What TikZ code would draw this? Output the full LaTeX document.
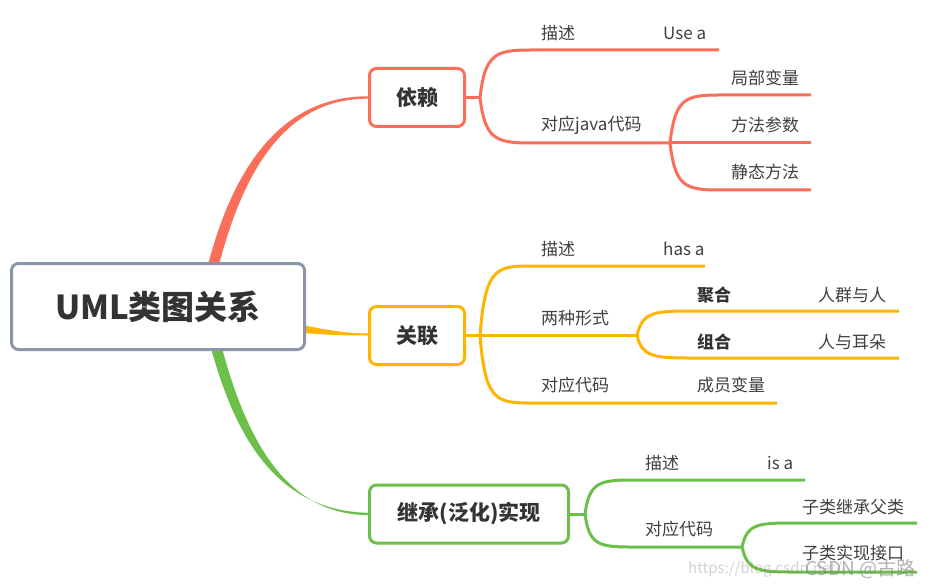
\documentclass[tikz,border=0pt]{standalone}
\usepackage{fontspec}
\setmainfont{Noto Sans CJK SC}
\definecolor{cred}{RGB}{250,110,90}
\definecolor{corg}{RGB}{255,180,0}
\definecolor{cgrn}{RGB}{108,192,74}
\definecolor{cgray}{RGB}{138,149,168}
\definecolor{ctxt}{RGB}{51,51,51}
\definecolor{clbl}{RGB}{64,64,64}
\begin{document}
\begin{tikzpicture}[x=1pt,y=-1pt,
  topic/.style={draw, line width=3pt, rounded corners=7pt, fill=white, text=ctxt,
    font=\bfseries\fontsize{21}{25}\selectfont, inner sep=0pt, minimum height=58pt},
  lbl/.style={anchor=west, inner sep=0pt, text=clbl, font=\fontsize{17}{20}\selectfont},
  blbl/.style={lbl, text=ctxt, font=\bfseries\fontsize{17}{20}\selectfont},
  br/.style={line width=3pt},
  stub/.style={line width=3pt, line cap=round}
]
\useasboundingbox[fill=white] (0,0) rectangle (931,588);

% ---------- tapered main connectors ----------
\fill[cred] (208,265) .. controls (237,153) and (291,96) .. (368,96.3)
  -- (368,98.7) .. controls (293,98.5) and (247,157) .. (219,265) -- cycle;
\fill[corg] (304,325.5) .. controls (330,330) and (340,333) .. (368,333.5)
  -- (368,335.5) .. controls (340,335.5) and (330,335) .. (304,333) -- cycle;
\fill[cgrn] (211,348) .. controls (240,455) and (288,511) .. (368,512.8)
  -- (368,515.2) .. controls (292,514) and (250,452) .. (222,348) -- cycle;

% ---------- topic nodes ----------
\node[topic, draw=cgray, minimum width=293pt, minimum height=86pt,
  font=\bfseries\fontsize{33}{38}\selectfont] (root) at (158,306.5) {UML类图关系};
\node[topic, draw=cred, minimum width=95pt] (dep) at (417,97.5) {依赖};
\node[topic, draw=corg, minimum width=95pt] (assoc) at (417,335.5) {关联};
\node[topic, draw=cgrn, minimum width=199pt] (inh) at (469,514) {继承(泛化)实现};

% ---------- 依赖 branch ----------
\coordinate (r0) at (480,97.5);
\coordinate (r1a) at (530,50);   \coordinate (r1b) at (719,50);
\coordinate (r2a) at (530,143);  \coordinate (r2b) at (670,143);
\coordinate (r3a) at (718,95);   \coordinate (r3b) at (811,95);
\coordinate (r4b) at (811,143);
\coordinate (r5a) at (718,190);  \coordinate (r5b) at (811,190);
\draw[stub, cred] (dep.east) -- (r0);
\draw[br, cred] (r0) .. controls +(5,-43) and +(-35,0) .. (r1a) -- (r1b);
\draw[br, cred] (r0) .. controls +(5,41) and +(-35,0) .. (r2a) -- (r2b);
\draw[br, cred] (r2b) .. controls +(5,-43) and +(-34,0) .. (r3a) -- (r3b);
\draw[br, cred] (r2b) -- (r4b);
\draw[br, cred] (r2b) .. controls +(5,42) and +(-34,0) .. (r5a) -- (r5b);
\draw[stub, cred] (r2b) circle (0.1pt);
\node[lbl] (t1) at (541,33) {描述};
\node[lbl] (t2) at (663,33) {Use a};
\node[lbl] (t3) at (541,125) {对应java代码};
\node[lbl] (t4) at (731,78) {局部变量};
\node[lbl] (t5) at (731,125) {方法参数};
\node[lbl] (t6) at (731,172) {静态方法};

% ---------- 关联 branch ----------
\coordinate (o0) at (480,335.5);
\coordinate (o1a) at (527,266);  \coordinate (o1b) at (705,266);
\coordinate (o2b) at (637,335.5);
\coordinate (o3a) at (527,403);  \coordinate (o3b) at (777,403);
\coordinate (o4a) at (688,311);  \coordinate (o4b) at (899,311);
\coordinate (o5a) at (688,358);  \coordinate (o5b) at (899,358);
\draw[stub, corg] (assoc.east) -- (o0);
\draw[br, corg] (o0) .. controls +(5,-63) and +(-33,0) .. (o1a) -- (o1b);
\draw[br, corg] (o0) -- (o2b);
\draw[br, corg] (o0) .. controls +(5,61) and +(-33,0) .. (o3a) -- (o3b);
\draw[br, corg] (o2b) .. controls +(5,-22) and +(-36,0) .. (o4a) -- (o4b);
\draw[br, corg] (o2b) .. controls +(5,20) and +(-36,0) .. (o5a) -- (o5b);
\draw[stub, corg] (o2b) circle (0.1pt);
\node[lbl] (m1) at (541,249) {描述};
\node[lbl] (m2) at (663,249) {has a};
\node[lbl] (m3) at (541,318) {两种形式};
\node[blbl] (m4) at (697,295) {聚合};
\node[lbl] (m5) at (818,295) {人群与人};
\node[blbl] (m6) at (697,342) {组合};
\node[lbl] (m7) at (818,342) {人与耳朵};
\node[lbl] (m8) at (541,385) {对应代码};
\node[lbl] (m9) at (697,385) {成员变量};

% ---------- 继承 branch ----------
\coordinate (g0) at (585,514);
\coordinate (g1a) at (630,480);  \coordinate (g1b) at (805,480);
\coordinate (g2a) at (630,547);  \coordinate (g2b) at (742,547);
\coordinate (g3a) at (790,523);  \coordinate (g3b) at (917,523);
\coordinate (g4a) at (790,572);  \coordinate (g4b) at (917,572);
\draw[stub, cgrn] (inh.east) -- (g0);
\draw[br, cgrn] (g0) .. controls +(4,-30) and +(-32,0) .. (g1a) -- (g1b);
\draw[br, cgrn] (g0) .. controls +(4,30) and +(-32,0) .. (g2a) -- (g2b);
\draw[br, cgrn] (g2b) .. controls +(5,-22) and +(-34,0) .. (g3a) -- (g3b);
\draw[br, cgrn] (g2b) .. controls +(5,22) and +(-34,0) .. (g4a) -- (g4b);
\node[lbl] (b1) at (645,463) {描述};
\node[lbl] (b2) at (767,463) {is a};
\node[lbl] (b3) at (645,529) {对应代码};
\node[lbl] (b4) at (802,507) {子类继承父类};
\node[lbl] (b5) at (802,553) {子类实现接口};

% ---------- watermark ----------
\node[anchor=west, inner sep=0pt, text=gray, opacity=0.35,
  font=\fontsize{15}{18}\selectfont] (wm1) at (688,569) {https://blog.csdn.net/};
\node[anchor=west, inner sep=0pt, text=gray, opacity=0.6,
  font=\fontsize{19}{22}\selectfont] (wm2) at (805,569) {CSDN @古路};
\end{tikzpicture}
\end{document}
